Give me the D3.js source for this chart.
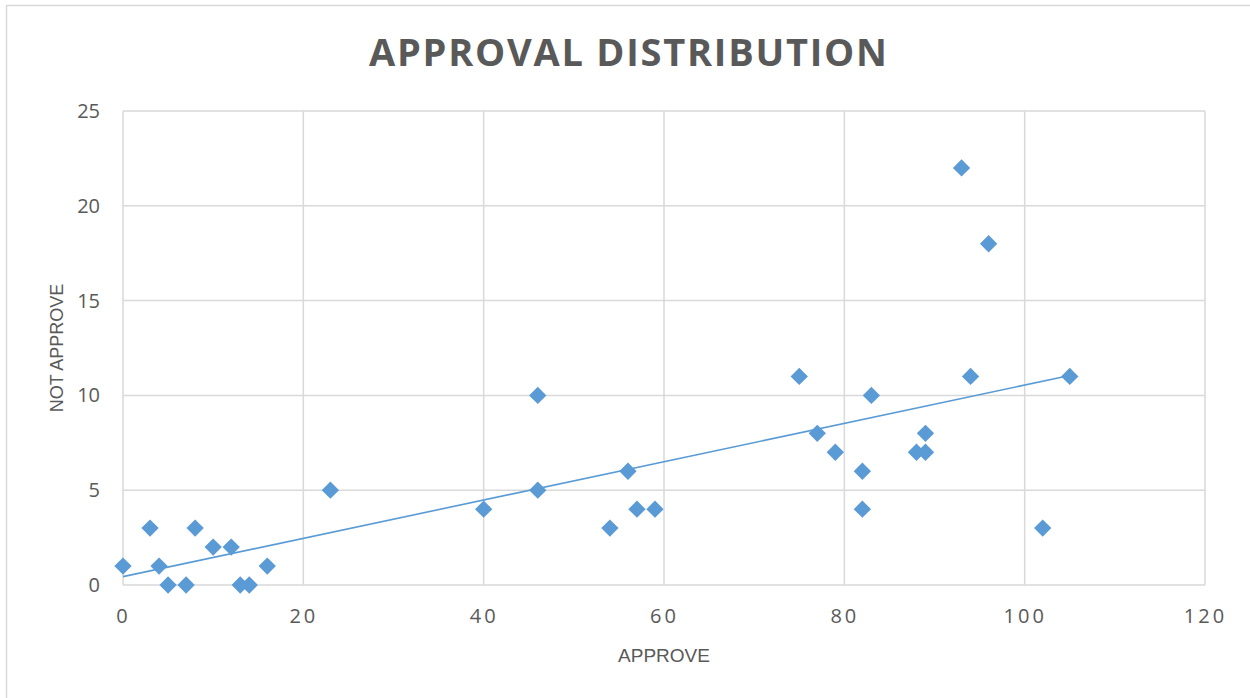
<!DOCTYPE html>
<html>
<head>
<meta charset="utf-8">
<script src="https://cdn.jsdelivr.net/npm/d3@7"></script>
<style>
  html, body { margin: 0; padding: 0; background: #fff; }
  svg { display: block; }
</style>
</head>
<body>
<svg id="chart" width="1250" height="698"></svg>
<script>
// Approve vs. not-approve counts, one entry per observation
const approve    = [0, 3, 4, 5, 7, 8, 10, 12, 13, 14, 16, 23, 40, 46, 46, 54, 56, 57, 59, 75, 77, 79, 82, 82, 83, 88, 89, 89, 93, 94, 96, 102, 105];
const notApprove = [1, 3, 1, 0, 0, 3, 2, 2, 0, 0, 1, 5, 4, 10, 5, 3, 6, 4, 4, 11, 8, 7, 6, 4, 10, 7, 8, 7, 22, 11, 18, 3, 11];
const xTicks = [0, 20, 40, 60, 80, 100, 120];
const yTicks = [0, 5, 10, 15, 20, 25];
const chartTitle = "APPROVAL DISTRIBUTION";
const xTitle = "APPROVE";
const yTitle = "NOT APPROVE";

const points = approve.map((a, i) => ({ x: a, y: notApprove[i] }));

const svg = d3.select("#chart");
const textColor = "#595959";
const gridColor = "#d9d9d9";
const markColor = "#5b9bd5";

// Chart frame
svg.append("rect")
  .attr("x", 6.5).attr("y", 5.5)
  .attr("width", 1260).attr("height", 710)
  .attr("fill", "#fff")
  .attr("stroke", gridColor).attr("stroke-width", 1.5);

const plot = { left: 123, right: 1205, top: 111, bottom: 585 };

const x = d3.scaleLinear().domain([0, 120]).range([plot.left, plot.right]);
const y = d3.scaleLinear().domain([0, 25]).range([plot.bottom, plot.top]);

// Gridlines
const grid = svg.append("g");
grid.selectAll(".gx").data(xTicks).join("line")
  .attr("x1", d => x(d)).attr("x2", d => x(d))
  .attr("y1", plot.top).attr("y2", plot.bottom)
  .attr("stroke", gridColor).attr("stroke-width", 1.5);
grid.selectAll(".gy").data(yTicks).join("line")
  .attr("x1", plot.left).attr("x2", plot.right)
  .attr("y1", d => y(d)).attr("y2", d => y(d))
  .attr("stroke", gridColor).attr("stroke-width", 1.5);

// Axes (labels only; lines come from the grid)
const xAxis = svg.append("g")
  .attr("transform", `translate(0,${plot.bottom})`)
  .call(d3.axisBottom(x).tickValues(xTicks).tickSize(0).tickPadding(0));
xAxis.select(".domain").remove();
xAxis.selectAll("text")
  .attr("dy", null)
  .attr("y", 38)
  .attr("fill", textColor)
  .style("font-family", "'Open Sans', sans-serif")
  .style("font-size", "20px")
  .style("letter-spacing", "3px");

const yAxis = svg.append("g")
  .attr("transform", `translate(${plot.left},0)`)
  .call(d3.axisLeft(y).tickValues(yTicks).tickSize(0).tickPadding(23));
yAxis.select(".domain").remove();
yAxis.selectAll("text")
  .attr("fill", textColor)
  .style("font-family", "'Open Sans', sans-serif")
  .style("font-size", "20px");

// Linear least-squares trendline
const mx = d3.mean(points, d => d.x);
const my = d3.mean(points, d => d.y);
const slope = d3.sum(points, d => (d.x - mx) * (d.y - my)) / d3.sum(points, d => (d.x - mx) ** 2);
const intercept = my - slope * mx;
const [xmin, xmax] = d3.extent(points, d => d.x);
svg.append("line")
  .attr("x1", x(xmin)).attr("y1", y(intercept + slope * xmin))
  .attr("x2", x(xmax)).attr("y2", y(intercept + slope * xmax))
  .attr("stroke", markColor).attr("stroke-width", 1.6);

// Diamond markers
const diamond = d3.symbol().type(d3.symbolSquare).size(150);
svg.append("g").selectAll("path").data(points).join("path")
  .attr("d", diamond)
  .attr("transform", d => `translate(${x(d.x)},${y(d.y)}) rotate(45)`)
  .attr("fill", markColor);

// Titles
svg.append("text")
  .attr("x", 628).attr("y", 66)
  .attr("text-anchor", "middle")
  .attr("textLength", 518).attr("lengthAdjust", "spacing")
  .attr("fill", textColor)
  .style("font-family", "'Open Sans', sans-serif")
  .style("font-weight", "bold")
  .style("font-size", "38px")
  .text(chartTitle);

svg.append("text")
  .attr("x", (plot.left + plot.right) / 2).attr("y", 662)
  .attr("text-anchor", "middle")
  .attr("fill", textColor)
  .style("font-family", "'Liberation Sans', sans-serif")
  .style("font-size", "19px")
  .text(xTitle);

svg.append("text")
  .attr("transform", `translate(63,${(plot.top + plot.bottom) / 2}) rotate(-90)`)
  .attr("text-anchor", "middle")
  .attr("fill", textColor)
  .style("font-family", "'Liberation Sans', sans-serif")
  .style("font-size", "18px")
  .text(yTitle);
</script>
</body>
</html>
